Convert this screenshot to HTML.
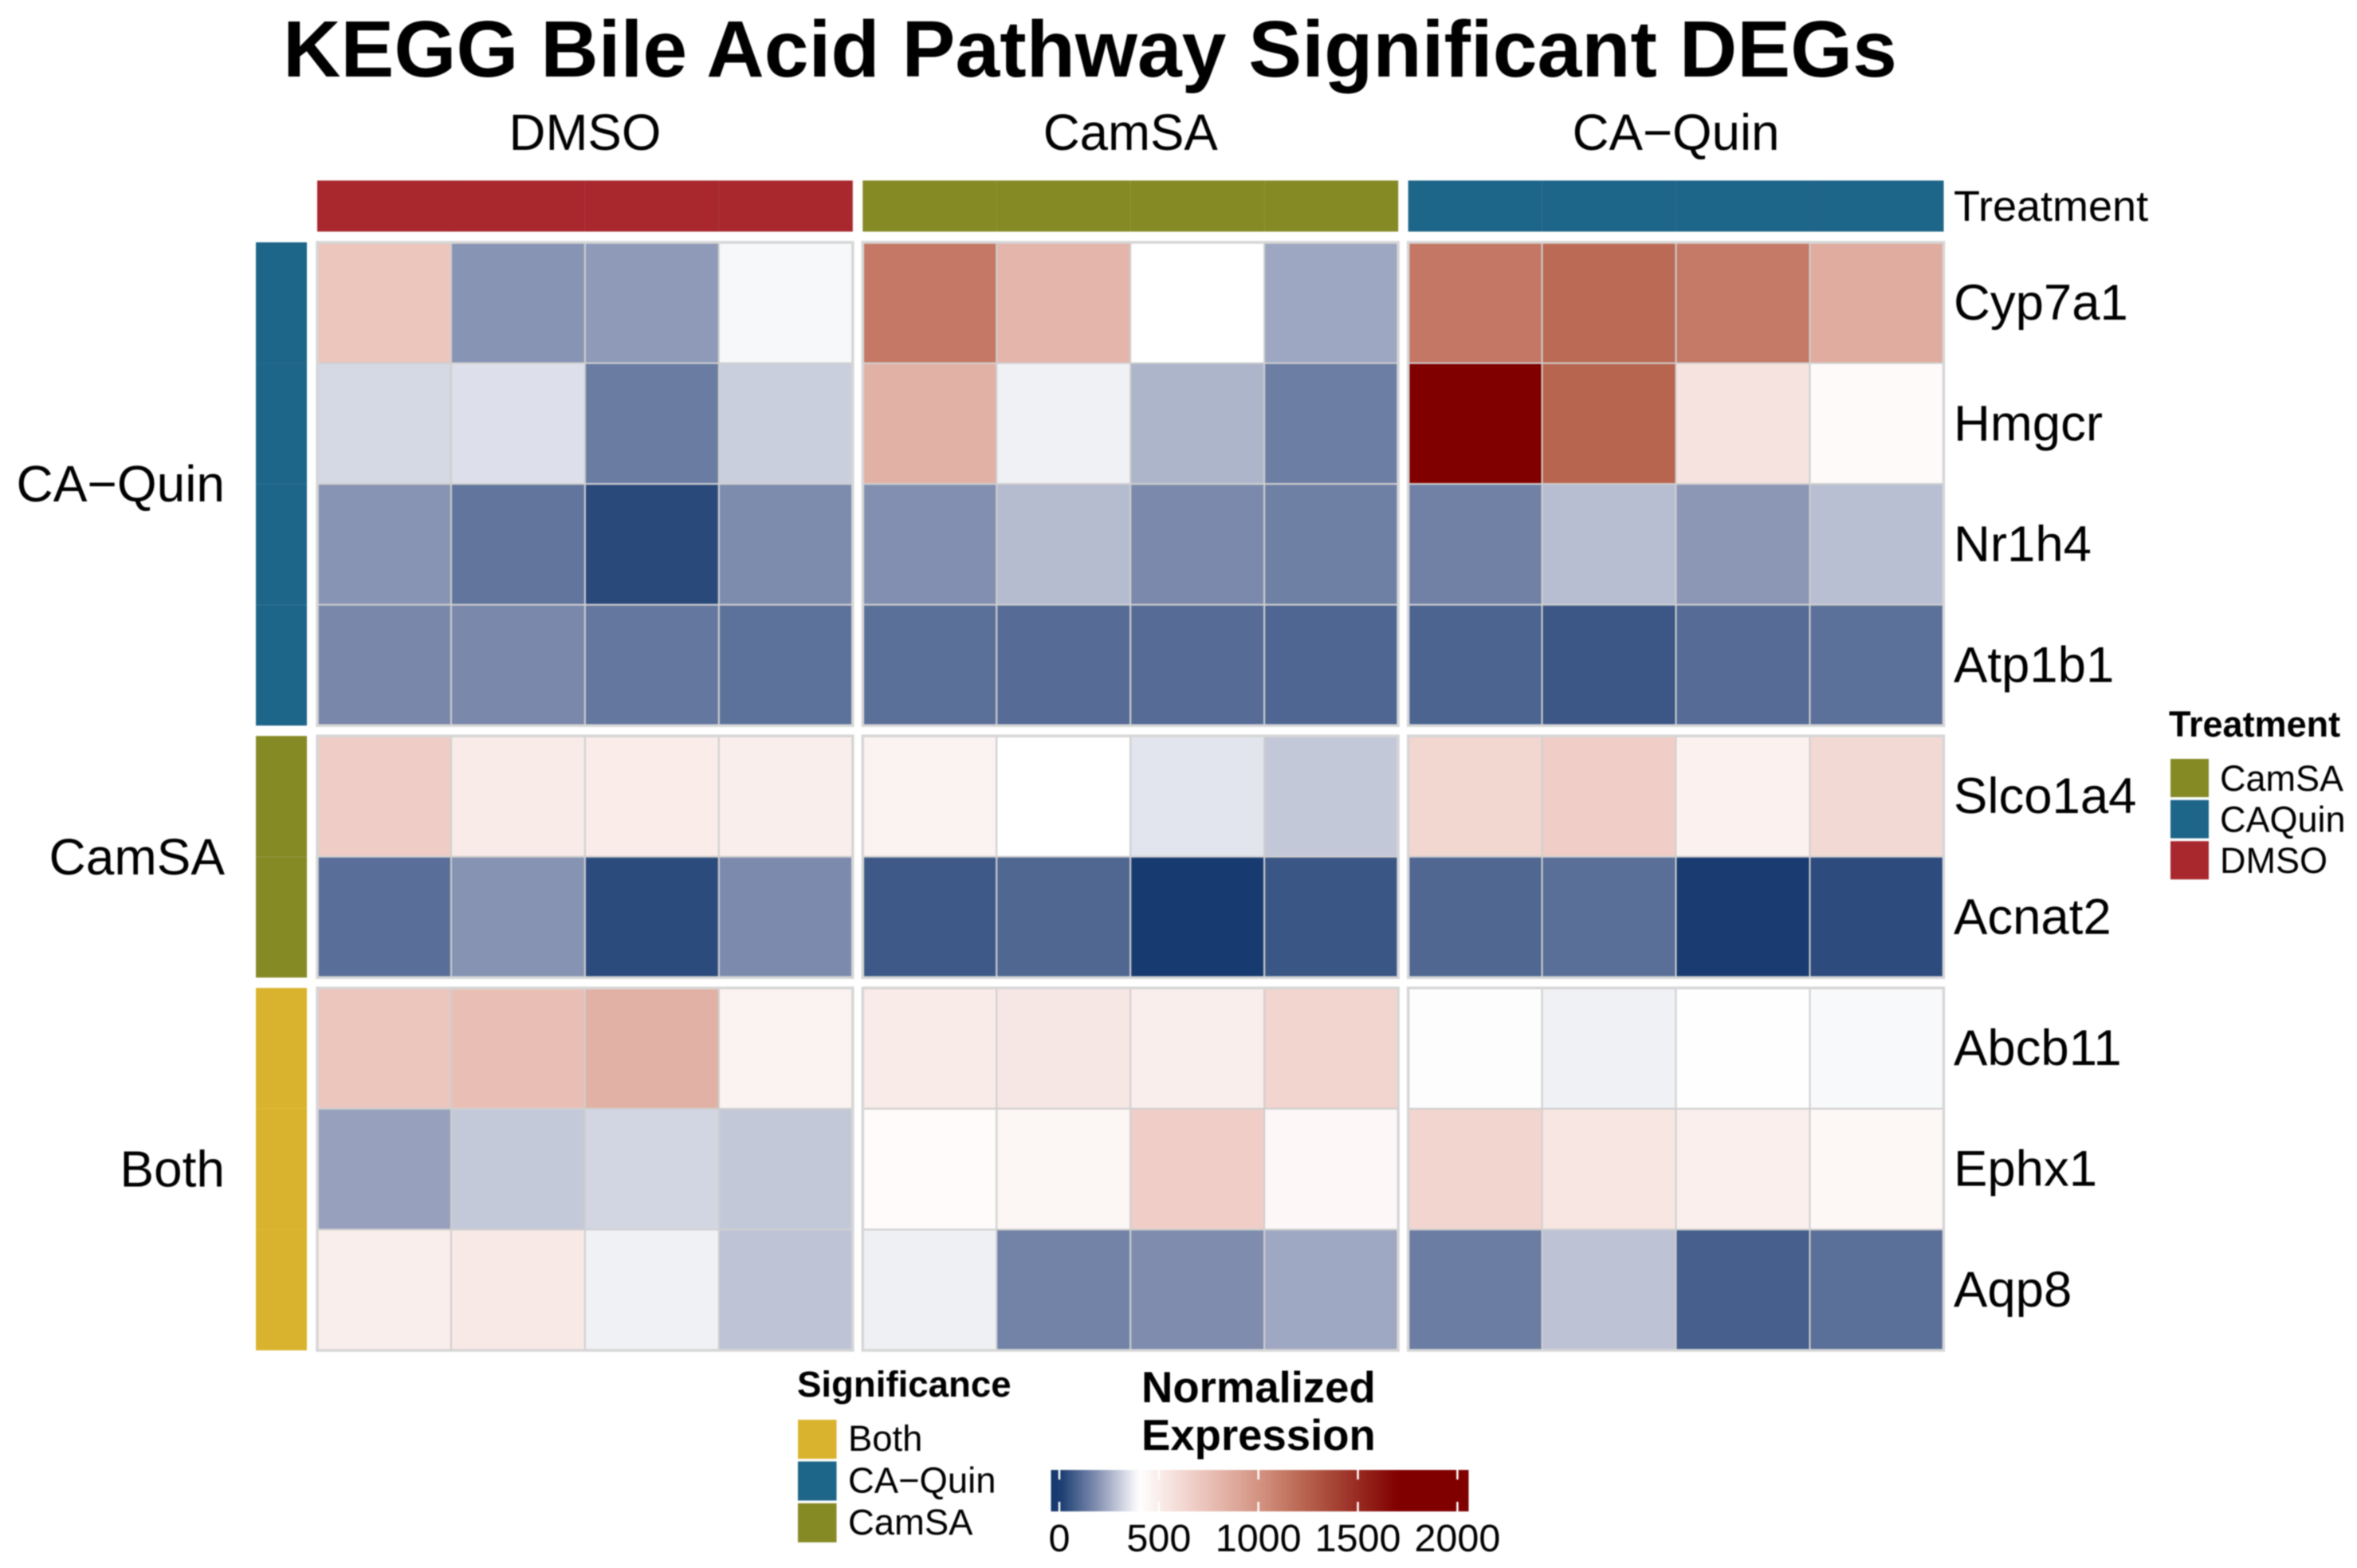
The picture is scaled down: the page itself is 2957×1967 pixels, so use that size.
<!DOCTYPE html>
<html lang="en">
<head>
<meta charset="utf-8">
<title>KEGG Bile Acid Pathway Significant DEGs</title>
<style>
html,body{margin:0;padding:0;background:#fff;}
svg{display:block;filter:blur(0.7px);}
text{font-family:"Liberation Sans",Arial,sans-serif;fill:#000;}
.b{font-weight:bold;}
</style>
</head>
<body>
<svg id="chart" xmlns="http://www.w3.org/2000/svg" width="2957" height="1967" viewBox="0 0 2957 1967">
  <defs>
    <linearGradient id="bar-gradient" x1="0" x2="1" y1="0" y2="0"></linearGradient>
  </defs>
  <text x="355" y="96" font-size="100.3" class="b">KEGG Bile Acid Pathway Significant DEGs</text>
  <g id="columns-layer"></g>
  <g id="cells-layer"></g>
  <g id="labels-layer"></g>
  <text x="2451" y="277" font-size="54">Treatment</text>

  <g>
    <text x="2721" y="924" font-size="45" class="b">Treatment</text>
    <g id="treatment-legend-entries"></g>
  </g>
  <g>
    <text x="1000" y="1752" font-size="45.6" class="b">Significance</text>
    <g id="significance-legend-entries"></g>
  </g>
  <g>
    <text x="1432" y="1759" font-size="54.5" class="b">Normalized</text>
    <text x="1432" y="1819" font-size="54.5" class="b">Expression</text>
    <rect x="1318.5" y="1844" width="524" height="52" fill="url(#bar-gradient)"></rect>
    <g id="colorbar-ticks"></g>
  </g>
</svg>
<script>
const treatments = ["DMSO", "CamSA", "CA\u2212Quin"];
const samplesPerTreatment = [4, 4, 4];
const significanceGroups = ["CA\u2212Quin", "CamSA", "Both"];
const genesPerGroup = [4, 2, 3];
const genes = ["Cyp7a1", "Hmgcr", "Nr1h4", "Atp1b1", "Slco1a4", "Acnat2", "Abcb11", "Ephx1", "Aqp8"];

const cyp7a1 = [717, 197, 209, 386, 1135, 811, 400, 234, 1139, 1201, 1125, 861];
const hmgcr = [328, 342, 144, 309, 833, 374, 260, 150, 2030, 1224, 556, 428];
const nr1h4 = [197, 129, 33, 177, 186, 273, 174, 153, 157, 277, 203, 280];
const atp1b1 = [169, 172, 134, 122, 118, 110, 110, 96, 92, 64, 110, 120];
const slco1a4 = [678, 511, 506, 494, 467, 400, 350, 297, 628, 672, 472, 611];
const acnat2 = [115, 195, 37, 176, 68, 99, 0, 61, 99, 117, 3, 38];
const abcb11 = [717, 756, 833, 467, 511, 533, 494, 633, 397, 374, 405, 388];
const ephx1 = [222, 299, 323, 297, 422, 450, 672, 439, 633, 539, 489, 444];
const aqp8 = [494, 522, 374, 289, 371, 160, 181, 236, 148, 287, 82, 118];
const expression = [cyp7a1, hmgcr, nr1h4, atp1b1, slco1a4, acnat2, abcb11, ephx1, aqp8];

const treatmentLegendLabels = ["CamSA", "CAQuin", "DMSO"];
const significanceLegendLabels = ["Both", "CA\u2212Quin", "CamSA"];
const colorbarTicks = [0, 500, 1000, 1500, 2000];

const scaleDomain = [0, 200, 400, 700, 1050, 1225, 1700];
const scaleRange = [[23, 58, 112], [138, 149, 181], [255, 255, 255], [238, 201, 193], [207, 138, 120], [184, 101, 80], [128, 0, 0]];
const treatmentColors = {"DMSO": "#a8282e", "CamSA": "#858a25", "CA\u2212Quin": "#1d6589", "CAQuin": "#1d6589"};
const significanceColors = {"CA\u2212Quin": "#1d6589", "CamSA": "#858a25", "Both": "#dab32e"};

const NS = "http://www.w3.org/2000/svg";
const plotLeft = 398, plotRight = 2438.5, plotTop = 304, plotBottom = 1694;
const colGap = 12.5, rowGap = 13;

function colorOf(v) {
  if (v <= scaleDomain[0]) return "rgb(" + scaleRange[0].join(",") + ")";
  const last = scaleDomain.length - 1;
  if (v >= scaleDomain[last]) return "rgb(" + scaleRange[last].join(",") + ")";
  for (let i = 0; i < last; i++) {
    if (v <= scaleDomain[i + 1]) {
      const t = (v - scaleDomain[i]) / (scaleDomain[i + 1] - scaleDomain[i]);
      const c = scaleRange[i].map(function (a, k) { return Math.round(a + (scaleRange[i + 1][k] - a) * t); });
      return "rgb(" + c.join(",") + ")";
    }
  }
}
function sum(a) { return a.reduce(function (x, y) { return x + y; }, 0); }
const sampleWidth = (plotRight - plotLeft - colGap * (treatments.length - 1)) / sum(samplesPerTreatment);
const geneHeight = (plotBottom - plotTop - rowGap * (significanceGroups.length - 1)) / sum(genesPerGroup);

function panelX(p) {
  let x = plotLeft;
  for (let i = 0; i < p; i++) x += samplesPerTreatment[i] * sampleWidth + colGap;
  return x;
}
function groupY(g) {
  let y = plotTop;
  for (let i = 0; i < g; i++) y += genesPerGroup[i] * geneHeight + rowGap;
  return y;
}
function make(tag, attrs, parent, txt) {
  const el = document.createElementNS(NS, tag);
  for (const k in attrs) el.setAttribute(k, attrs[k]);
  if (txt !== undefined) el.textContent = txt;
  parent.appendChild(el);
  return el;
}

const columnsLayer = document.getElementById("columns-layer");
const cellsLayer = document.getElementById("cells-layer");
const labelsLayer = document.getElementById("labels-layer");

// treatment headers and annotation bars
treatments.forEach(function (name, p) {
  const x0 = panelX(p);
  const w = samplesPerTreatment[p] * sampleWidth;
  const title = make("text", {x: x0 + w / 2, y: 188, "font-size": 63.6, "text-anchor": "middle"}, labelsLayer, name);
  
  
  for (let s = 0; s < samplesPerTreatment[p]; s++) {
    const seg = make("rect", {x: x0 + s * sampleWidth, y: 226.5, width: sampleWidth, height: 64, fill: treatmentColors[name], stroke: "#000", "stroke-opacity": 0.02, "stroke-width": 1}, columnsLayer);
    
    
  }
});

// significance row groups
let geneIndex = 0;
significanceGroups.forEach(function (group, g) {
  const y0 = groupY(g);
  const h = genesPerGroup[g] * geneHeight;
  const title = make("text", {x: 282, y: y0 + h / 2 + 22, "font-size": 64, "text-anchor": "end"}, labelsLayer, group);
  
  
  for (let r = 0; r < genesPerGroup[g]; r++) {
    const rowY = y0 + r * geneHeight;
    const seg = make("rect", {x: 321, y: rowY, width: 64, height: geneHeight, fill: significanceColors[group]}, columnsLayer);
    
    
    const label = make("text", {x: 2451, y: rowY + geneHeight / 2 + 21, "font-size": 63.5}, labelsLayer, genes[geneIndex]);
    
    
    let col = 0;
    treatments.forEach(function (t, p) {
      for (let s = 0; s < samplesPerTreatment[p]; s++) {
        const cell = make("rect", {
          x: panelX(p) + s * sampleWidth, y: rowY,
          width: sampleWidth, height: geneHeight,
          fill: colorOf(expression[geneIndex][col]),
          stroke: "#cfcfcf", "stroke-width": 2
        }, cellsLayer);
        
        
        col++;
      }
    });
    geneIndex++;
  }
});

// panel frames
significanceGroups.forEach(function (group, g) {
  treatments.forEach(function (t, p) {
    const frame = make("rect", {
      x: panelX(p), y: groupY(g),
      width: samplesPerTreatment[p] * sampleWidth,
      height: genesPerGroup[g] * geneHeight,
      fill: "none", stroke: "#d6d6d6", "stroke-width": 3.5
    }, cellsLayer);
    
    
  });
});

// treatment legend
const tLegend = document.getElementById("treatment-legend-entries");
treatmentLegendLabels.forEach(function (name, i) {
  const swatch = make("rect", {x: 2723, y: 952 + i * 51.6, width: 48, height: 48, fill: treatmentColors[name]}, tLegend);
  
  
  const label = make("text", {x: 2785, y: 992 + i * 51.6, "font-size": 45}, tLegend, name);
  
  
});

// significance legend
const sLegend = document.getElementById("significance-legend-entries");
significanceLegendLabels.forEach(function (name, i) {
  const swatch = make("rect", {x: 1001, y: 1781 + i * 52.4, width: 48.5, height: 49, fill: significanceColors[name]}, sLegend);
  
  
  const label = make("text", {x: 1064, y: 1820 + i * 52.4, "font-size": 45.4}, sLegend, name);
  
  
});

// colorbar
const barX0 = 1318.5, barW = 524, tick0 = 1329, pxPerUnit = 0.2497;
function barValue(x) { return (x - tick0) / pxPerUnit; }
const grad = document.getElementById("bar-gradient");
for (let i = 0; i <= 80; i++) {
  const f = i / 80;
  make("stop", {offset: f, "stop-color": colorOf(barValue(barX0 + f * barW))}, grad);
}
const tickLayer = document.getElementById("colorbar-ticks");
colorbarTicks.forEach(function (v) {
  const x = tick0 + v * pxPerUnit;
  const top = make("rect", {x: x - 1.25, y: 1844, width: 2.5, height: 12, fill: "#fff"}, tickLayer);
  
  
  const bottom = make("rect", {x: x - 1.25, y: 1884, width: 2.5, height: 12, fill: "#fff"}, tickLayer);
  
  
  const label = make("text", {x: x, y: 1946, "font-size": 48.5, "text-anchor": "middle"}, tickLayer, String(v));
  
  
});
</script>
</body>
</html>
